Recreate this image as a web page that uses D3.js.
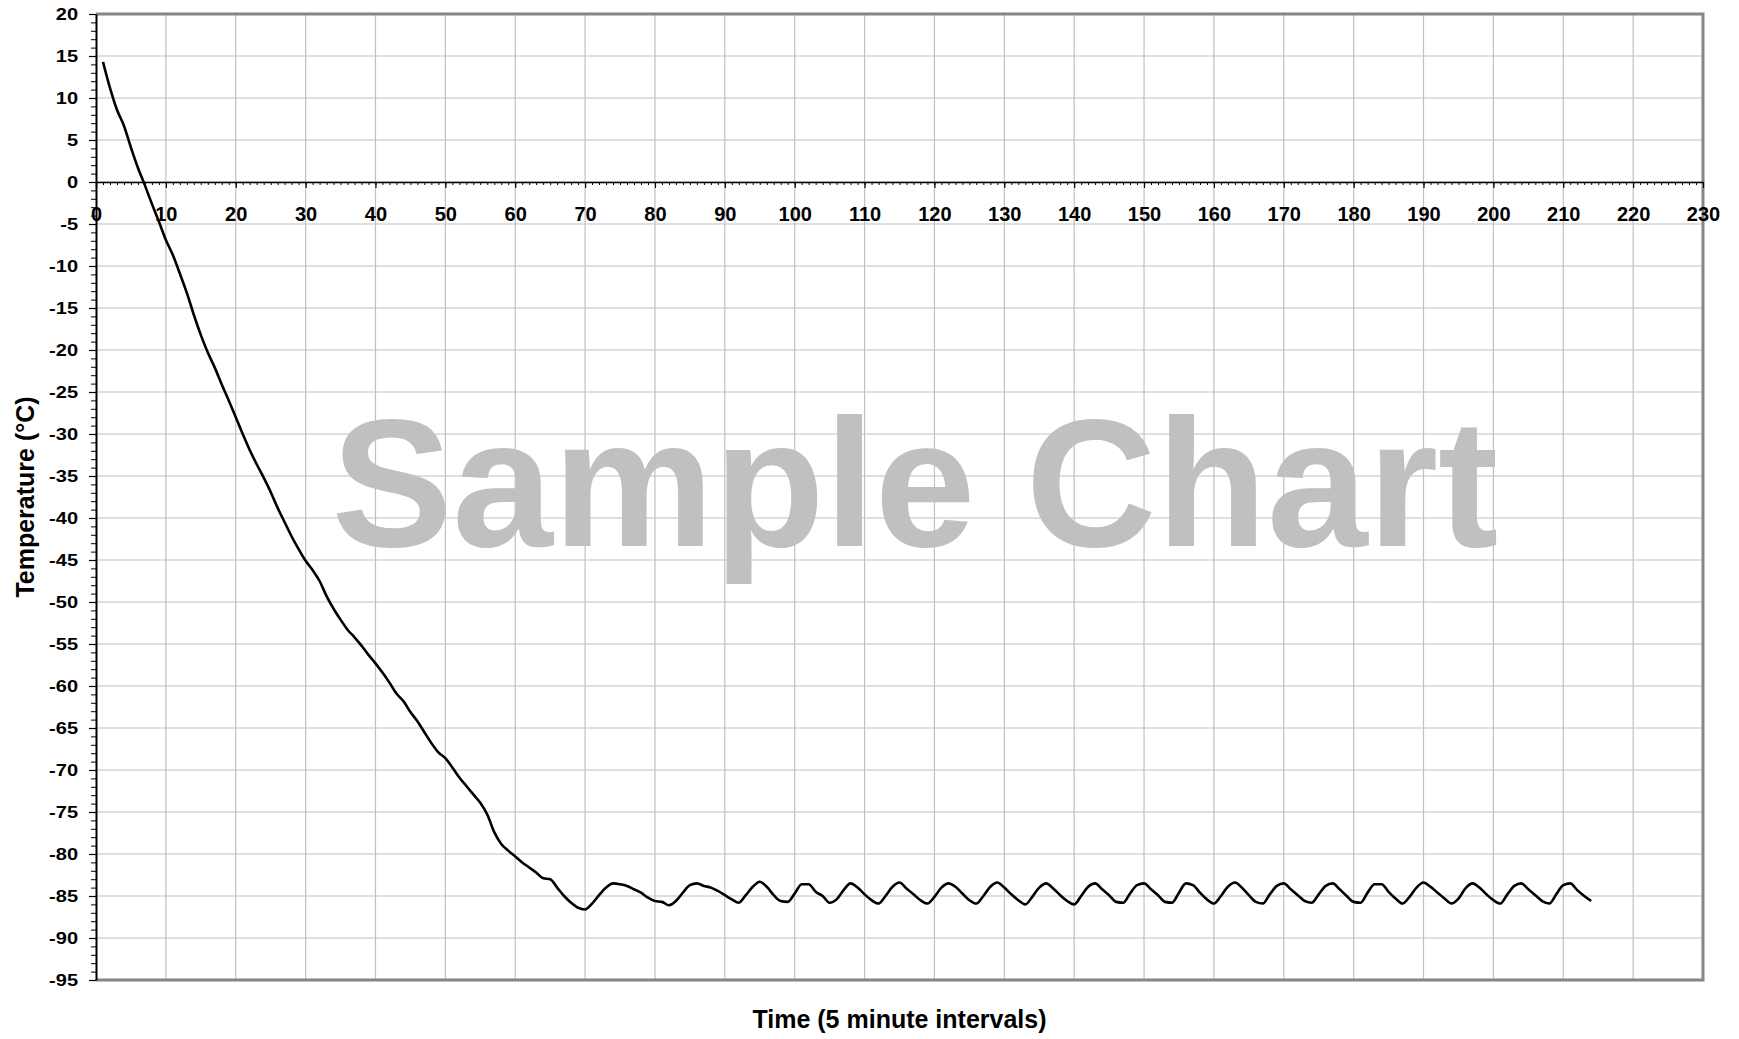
<!DOCTYPE html>
<html>
<head>
<meta charset="utf-8">
<title>Sample Chart</title>
<script src="https://cdn.jsdelivr.net/npm/d3@7/dist/d3.min.js"></script>
<style>
    html, body { margin: 0; padding: 0; background: #fff; }
    svg { display: block; font-family: "Liberation Sans", Arial, sans-serif; }
</style>
</head>
<body>
<div id="chart"></div>
<script>
// temperature readings, one every 5 minutes (interval 1..214)
var intervals = d3.range(1, 215);
var temperatures = [
    14.3, 11.2, 8.6, 6.7, 4.1, 1.7, -0.4, -2.6, -4.7, -6.9,
    -8.7, -10.9, -13.2, -15.8, -18.2, -20.3, -22.1, -24.1, -26.0, -28.0,
    -30.0, -31.9, -33.6, -35.2, -36.9, -38.8, -40.5, -42.2, -43.7, -45.1,
    -46.2, -47.5, -49.3, -50.8, -52.1, -53.3, -54.2, -55.2, -56.3, -57.3,
    -58.4, -59.6, -60.9, -61.8, -63.1, -64.2, -65.5, -66.8, -67.9, -68.6,
    -69.7, -70.9, -71.9, -72.9, -73.9, -75.3, -77.4, -78.8, -79.6, -80.3,
    -81.0, -81.6, -82.2, -82.9, -83.0, -84.0, -85.0, -85.8, -86.4, -86.6,
    -85.9, -84.9, -84.0, -83.5, -83.6, -83.8, -84.2, -84.6, -85.2, -85.6,
    -85.7, -86.1, -85.6, -84.6, -83.7, -83.5, -83.8, -84.0, -84.4, -84.9,
    -85.4, -85.8, -84.9, -83.9, -83.3, -83.9, -84.9, -85.6, -85.7, -84.7,
    -83.6, -83.6, -84.5, -85.0, -85.8, -85.4, -84.3, -83.5, -84.0, -84.8,
    -85.5, -85.9, -85.0, -83.9, -83.4, -84.1, -84.8, -85.5, -85.9, -85.1,
    -84.0, -83.5, -83.9, -84.7, -85.5, -85.9, -85.0, -83.9, -83.4, -84.0,
    -84.8, -85.5, -86.0, -85.1, -84.0, -83.5, -84.1, -84.9, -85.6, -86.0,
    -85.0, -83.9, -83.5, -84.2, -84.9, -85.7, -85.8, -84.7, -83.7, -83.5,
    -84.2, -84.9, -85.7, -85.8, -84.6, -83.5, -83.7, -84.6, -85.4, -85.9,
    -85.0, -83.9, -83.4, -84.0, -84.9, -85.7, -85.9, -84.8, -83.8, -83.5,
    -84.2, -84.9, -85.6, -85.8, -84.8, -83.8, -83.5, -84.2, -85.0, -85.7,
    -85.8, -84.6, -83.6, -83.6, -84.5, -85.3, -85.9, -85.1, -84.0, -83.4,
    -83.9, -84.6, -85.3, -85.9, -85.3, -84.1, -83.5, -84.0, -84.8, -85.5,
    -85.9, -84.8, -83.8, -83.5, -84.2, -84.9, -85.6, -85.9, -84.8, -83.7,
    -83.5, -84.3, -85.0, -85.6
];
var xTicks = d3.range(0, 231, 10);
var yTicks = d3.range(-95, 21, 5);
var xTitle = 'Time (5 minute intervals)';
var yTitle = 'Temperature (°C)';
var watermark = 'Sample Chart';

(function(){
    'use strict';

    var width = 1739, height = 1039;
    var left = 96, right = 1703, top = 14, bottom = 980;

    var x = d3.scaleLinear().domain([0, 230]).range([left, right]);
    var y = d3.scaleLinear().domain([-95, 20]).range([bottom, top]);

    // plain hyphen for negatives, like the original
    var plain = function(d){ return String(d); };

    var svg = d3.select('#chart').append('svg')
        .attr('width', width)
        .attr('height', height);

    // grid
    var grid = svg.append('g').attr('class', 'grid')
        .attr('stroke', '#c0c0c0').attr('stroke-width', 1.2);
    grid.selectAll('line.v')
        .data(xTicks.filter(function(d){ return d > 0 && d < 230; }))
        .enter().append('line').attr('class', 'v')
        .attr('x1', function(d){ return x(d); })
        .attr('x2', function(d){ return x(d); })
        .attr('y1', top).attr('y2', bottom);
    grid.selectAll('line.h')
        .data(yTicks.filter(function(d){ return d > -95 && d < 20; }))
        .enter().append('line').attr('class', 'h')
        .attr('x1', left).attr('x2', right)
        .attr('y1', function(d){ return y(d); })
        .attr('y2', function(d){ return y(d); });

    // watermark
    svg.append('text')
        .attr('x', 915).attr('y', 546)
        .attr('text-anchor', 'middle')
        .attr('fill', '#c0c0c0')
        .style('font-size', '181px')
        .style('font-weight', 'bold')
        .text(watermark);

    // frame (top, right, bottom)
    svg.append('path')
        .attr('d', 'M' + left + ',' + top + 'H' + right + 'V' + bottom + 'H' + left)
        .attr('fill', 'none')
        .attr('stroke', '#858585')
        .attr('stroke-width', 3);

    // x axis sits on the zero line
    var xMinor = d3.axisBottom(x).tickValues(d3.range(0, 231, 1))
        .tickSizeInner(3).tickSizeOuter(0).tickFormat('');
    svg.append('g')
        .attr('transform', 'translate(0,' + y(0) + ')')
        .call(xMinor)
        .call(function(g){ g.select('.domain').remove(); });

    var xMajor = d3.axisBottom(x).tickValues(xTicks).tickFormat(plain)
        .tickSizeInner(6).tickSizeOuter(0).tickPadding(19);
    var gx = svg.append('g')
        .attr('transform', 'translate(0,' + y(0) + ')')
        .call(xMajor);
    gx.selectAll('line').attr('stroke', '#000').attr('stroke-width', 1.2);
    gx.select('.domain').attr('stroke', '#000').attr('stroke-width', 1.5);
    gx.selectAll('text')
        .attr('fill', '#000')
        .style('font-size', '20px')
        .style('font-weight', 'bold')
        .attr('font-family', null);

    // y axis
    var yMinor = d3.axisLeft(y).tickValues(d3.range(-95, 21, 1))
        .tickSizeInner(5).tickSizeOuter(0).tickFormat('');
    svg.append('g')
        .attr('transform', 'translate(' + left + ',0)')
        .call(yMinor)
        .call(function(g){ g.select('.domain').remove(); });

    var yMajor = d3.axisLeft(y).tickValues(yTicks).tickFormat(plain)
        .tickSizeInner(7).tickSizeOuter(0).tickPadding(11);
    var gy = svg.append('g')
        .attr('transform', 'translate(' + left + ',0)')
        .call(yMajor);
    gy.selectAll('line').attr('stroke', '#000').attr('stroke-width', 1.2);
    gy.select('.domain').attr('stroke', '#000').attr('stroke-width', 2);
    gy.selectAll('text')
        .attr('fill', '#000')
        .attr('transform', 'scale(1,0.86)')
        .style('font-size', '20px')
        .style('font-weight', 'bold')
        .attr('font-family', null);

    svg.selectAll('.tick line').attr('stroke', '#000');

    // series
    var line = d3.line()
        .x(function(d){ return x(d[0]); })
        .y(function(d){ return y(d[1]); })
        .curve(d3.curveMonotoneX);
    svg.append('path')
        .datum(d3.zip(intervals, temperatures))
        .attr('fill', 'none')
        .attr('stroke', '#000')
        .attr('stroke-width', 2.6)
        .attr('stroke-linejoin', 'round')
        .attr('d', line);

    // titles
    svg.append('text')
        .attr('x', (left + right) / 2).attr('y', 1028)
        .attr('text-anchor', 'middle')
        .style('font-size', '25px')
        .style('font-weight', 'bold')
        .text(xTitle);
    svg.append('text')
        .attr('transform', 'translate(34,' + (top + bottom) / 2 + ') rotate(-90)')
        .attr('text-anchor', 'middle')
        .style('font-size', '25px')
        .style('font-weight', 'bold')
        .text(yTitle);
}());
</script>
</body>
</html>
